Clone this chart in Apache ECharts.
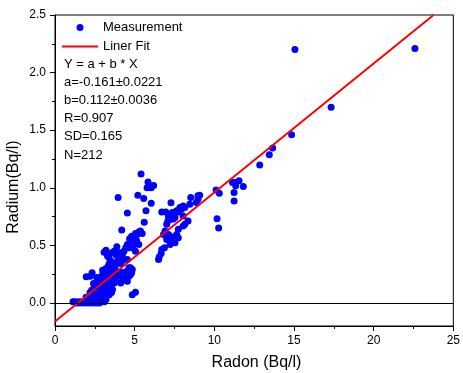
<!DOCTYPE html>
<html><head><meta charset="utf-8">
<script src="https://cdn.jsdelivr.net/npm/echarts@6/dist/echarts.min.js"></script>
<style>html,body{margin:0;padding:0;background:#fff}#c{width:463px;height:373px}</style>
</head><body><div id="c"></div>
<script>
// Radon (Bq/l) values of the measurements
const radonX = [
1.13,1.24,1.35,1.44,1.55,1.65,1.75,1.86,1.96,2.06,2.15,2.27,2.37,2.47,2.58,2.68,2.78,2.89,2.99,3.10,2.20,2.52,2.85,3.20,
1.95,2.10,2.17,2.30,2.40,2.58,2.70,2.99,3.10,3.40,2.20,2.37,2.50,2.65,2.78,2.90,3.05,3.25,2.48,2.60,2.78,2.95,3.20,3.35,3.61,2.68,2.85,3.09,3.00,3.40,3.55,3.71,2.89,3.15,3.30,3.50,3.80,4.12,2.55,2.30,
1.96,2.21,2.33,2.78,2.99,2.99,3.20,3.30,3.45,3.61,3.81,3.90,4.23,4.00,3.70,3.50,4.10,4.39,4.54,4.30,4.64,4.74,4.81,3.20,3.35,
3.20,3.08,3.30,3.40,3.51,3.57,3.61,3.71,3.86,3.88,4.02,4.02,4.23,4.33,4.33,4.54,4.64,4.74,4.85,4.44,4.54,4.64,4.85,4.95,5.05,3.40,3.80,3.95,4.15,
4.85,5.05,
4.68,4.74,4.81,4.95,4.95,5.05,5.05,5.12,5.16,5.26,5.26,5.36,5.47,4.19,5.60,4.54,5.71,6.04,3.96,5.20,5.57,5.40,5.84,5.92,5.78,6.04,6.19,
6.50,6.54,6.66,6.70,6.87,7.22,7.53,7.63,6.81,6.91,7.01,7.12,7.22,7.32,7.74,7.74,7.01,7.08,7.12,7.28,7.43,7.53,6.70,6.95,7.36,7.74,7.28,7.93,7.84,8.04,8.15,8.04,8.35,8.15,8.04,8.46,8.87,8.52,8.97,9.08,8.97,7.63,
10.11,10.31,11.14,11.28,11.55,11.34,11.82,11.24,11.24,10.17,10.27,12.85,13.45,13.66,14.85,17.33,15.06,22.59,
3.55,2.42,3.75,2.62,4.45
];
// Radium (Bq/l) values of the measurements
const radiumY = [
0.01,0.01,0.00,0.01,0.00,0.01,0.00,0.01,0.00,0.01,0.00,0.01,0.00,0.01,0.00,0.01,0.00,0.01,0.02,0.01,0.03,0.03,0.03,0.03,
0.05,0.04,0.044,0.06,0.05,0.058,0.06,0.058,0.05,0.072,0.09,0.087,0.08,0.10,0.09,0.08,0.10,0.09,0.131,0.12,0.116,0.13,0.116,0.125,0.116,0.174,0.16,0.174,0.15,0.145,0.16,0.174,0.203,0.20,0.19,0.20,0.19,0.174,0.15,0.11,
0.227,0.232,0.262,0.218,0.247,0.284,0.218,0.26,0.24,0.247,0.218,0.26,0.218,0.24,0.28,0.29,0.27,0.218,0.189,0.20,0.232,0.247,0.262,0.30,0.32,
0.458,0.44,0.406,0.392,0.363,0.436,0.354,0.45,0.412,0.488,0.392,0.436,0.421,0.45,0.378,0.378,0.305,0.305,0.29,0.48,0.508,0.48,0.48,0.508,0.45,0.34,0.33,0.36,0.34,
0.072,0.092,
0.558,0.537,0.58,0.528,0.575,0.552,0.604,0.54,0.595,0.616,0.508,0.625,0.604,0.633,0.70,0.78,0.80,0.866,0.915,0.935,0.907,1.12,1.05,1.02,1.00,1.00,1.02,
0.378,0.40,0.43,0.465,0.48,0.508,0.523,0.595,0.595,0.625,0.552,0.595,0.58,0.567,0.567,0.64,0.683,0.712,0.755,0.726,0.73,0.741,0.79,0.79,0.785,0.79,0.87,0.813,0.828,0.842,0.828,0.755,0.712,0.683,0.668,0.857,0.872,0.915,0.93,0.935,0.90,0.80,
0.98,0.953,1.046,1.046,1.06,1.017,1.011,0.959,0.886,0.732,0.65,1.197,1.287,1.345,1.46,1.70,2.20,2.21,
0.09,0.17,0.30,0.22,0.27
];
// Linear fit parameters Y = a + b * X
const fitA = -0.161;
const fitB = 0.112;
const statsLines = ['Y = a + b * X','a=-0.161\u00b10.0221','b=0.112\u00b10.0036','R=0.907','SD=0.165','N=212'];
const seriesNames = ['Measurement','Liner Fit'];
const xTicks = [0,5,10,15,20,25];
const yTicks = [0,0.5,1.0,1.5,2.0,2.5];
const yMinorTicks = [0.25,0.75,1.25,1.75,2.25];
const xMin = 0, xMax = 25, yMin = -0.2, yMax = 2.5;

const font = 'Liberation Sans, Arial, sans-serif';
const points = radonX.map((x,i)=>[x, radiumY[i]]);
const xEnd = Math.min(xMax, (yMax - fitA) / fitB);
const fitLine = [[xMin, fitA + fitB*xMin], [xEnd, fitA + fitB*xEnd]];

const chart = echarts.init(document.getElementById('c'), null, {renderer:'canvas'});
chart.setOption({
  animation:false,
  backgroundColor:'#fff',
  textStyle:{fontFamily:font},
  grid:{left:55, top:15, right:5, bottom:47, show:true, borderColor:'#000', borderWidth:1, backgroundColor:'transparent'},
  legend:{
    orient:'vertical', left:62, top:21, itemWidth:36, itemHeight:7, itemGap:6,
    padding:0,
    textStyle:{fontSize:13, color:'#000', fontFamily:font},
    data:[{name:seriesNames[0], icon:'circle'},
          {name:seriesNames[1], icon:'path://M0 0H36V2H0Z', itemStyle:{color:'#ff0000'}}]
  },
  xAxis:{
    type:'value', min:xMin, max:xMax, interval:5,
    axisLine:{onZero:false, lineStyle:{color:'#000', width:1}},
    axisTick:{length:5, lineStyle:{color:'#000'}},
    minorTick:{show:true, splitNumber:2, length:3, lineStyle:{color:'#000'}},
    axisLabel:{color:'#000', fontSize:12, margin:9, fontFamily:font},
    splitLine:{show:false}, minorSplitLine:{show:false}
  },
  yAxis:[{
    type:'value', min:yMin, max:yMax,
    axisLine:{onZero:false, lineStyle:{color:'#000', width:1}},
    axisTick:{length:5, customValues:yTicks, lineStyle:{color:'#000'}},
    axisLabel:{color:'#000', fontSize:12, margin:9, customValues:yTicks, fontFamily:font, formatter:v=>v.toFixed(1)},
    splitLine:{show:false}
  },{
    type:'value', min:yMin, max:yMax, position:'left',
    axisLine:{show:false},
    axisTick:{length:3, customValues:yMinorTicks, lineStyle:{color:'#000'}},
    axisLabel:{show:false},
    splitLine:{show:false}
  }],
  graphic:[
    {type:'text', left:64, top:55, silent:true,
     style:{text:statsLines.join('\n'), font:'13px '+font, fill:'#000', lineHeight:18.2}},
    {type:'text', x:256.5, y:363, silent:true,
     style:{text:'Radon (Bq/l)', font:'16px '+font, fill:'#000', align:'center', verticalAlign:'middle'}},
    {type:'text', x:14, y:187, rotation:Math.PI/2, silent:true,
     style:{text:'Radium(Bq/l)', font:'16px '+font, fill:'#000', align:'center', verticalAlign:'middle'}}
  ],
  series:[{
    name:seriesNames[0], type:'scatter', data:points, symbol:'circle', symbolSize:7,
    itemStyle:{color:'#0000ff', opacity:1},
    markLine:{silent:true, symbol:'none', label:{show:false},
      lineStyle:{color:'#000', type:'solid', width:1}, data:[{yAxis:0}]},
    z:3
  },{
    name:seriesNames[1], type:'line', data:fitLine, showSymbol:false, symbol:'none',
    lineStyle:{color:'#ff0000', width:2}, itemStyle:{color:'#ff0000'}, z:4
  }]
});
</script></body></html>
